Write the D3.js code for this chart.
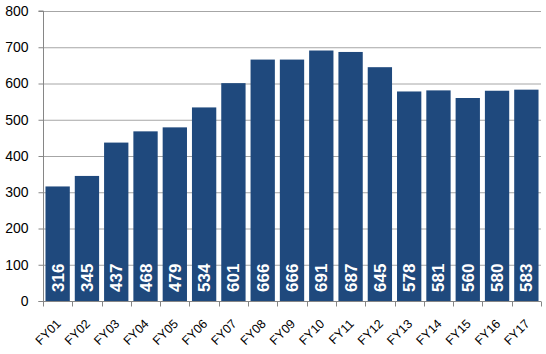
<!DOCTYPE html>
<html><head><meta charset="utf-8">
<script src="https://cdn.jsdelivr.net/npm/d3@7"></script>
<style>body{margin:0;background:#fff;} svg{display:block;}</style>
</head><body>
<svg id="c" width="546" height="354"></svg>
<script>
const categories = ["FY01","FY02","FY03","FY04","FY05","FY06","FY07","FY08","FY09","FY10","FY11","FY12","FY13","FY14","FY15","FY16","FY17"];
const values = [316,345,437,468,479,534,601,666,666,691,687,645,578,581,560,580,583];
const yTicks = [0,100,200,300,400,500,600,700,800];

const svg = d3.select("#c");
const m = {left:43, right:5, top:11, bottom:53};
const W = 546, H = 354;
const x = d3.scaleBand().domain(categories).range([m.left, W - m.right]).paddingInner(0.17).paddingOuter(0.085);
const y = d3.scaleLinear().domain([0,800]).range([H - m.bottom, m.top]);
const font = "'Liberation Sans', Arial, sans-serif";

// gridlines
svg.append("g").selectAll("line").data(yTicks.filter(d=>d>0)).join("line")
  .attr("x1", m.left).attr("x2", W - m.right)
  .attr("y1", d=>y(d)+0.5).attr("y2", d=>y(d)+0.5)
  .attr("stroke", "#a6a6a6").attr("stroke-width", 1);

// bars
svg.append("g").selectAll("rect").data(values).join("rect")
  .attr("x", (d,i)=>x(categories[i])).attr("width", x.bandwidth())
  .attr("y", d=>y(d)).attr("height", d=>y(0)-y(d))
  .attr("fill", "#1f497d");

// value labels
svg.append("g").selectAll("text").data(values).join("text")
  .attr("transform", (d,i)=>`translate(${x(categories[i]) + x.bandwidth()/2 + 6},${y(0)-9}) rotate(-90)`)
  .attr("fill", "#fff").attr("font-family", font).attr("font-weight", "bold").attr("font-size", 17)
  .text(d=>d);

// y axis
const yAxis = d3.axisLeft(y).tickValues(yTicks).tickSize(5).tickPadding(10);
const gy = svg.append("g").attr("transform", `translate(${m.left+0.5},0)`).call(yAxis);
gy.select(".domain").attr("stroke", "#868686").attr("d", `M-5,${y(0)+0.5}H0V${m.top}H-5`);
gy.selectAll(".tick line").attr("stroke", "#868686");
gy.selectAll(".tick text").attr("font-family", font).attr("font-size", 14).attr("fill", "#000");

// x axis
const gx = svg.append("g").attr("transform", `translate(0,${y(0)+0.5})`);
gx.append("line").attr("x1", m.left).attr("x2", W - m.right).attr("stroke", "#868686");
const bounds = d3.range(categories.length + 1).map(i => m.left + (W - m.left - m.right) * i / categories.length);
gx.selectAll(".t").data(bounds).join("line").attr("class","t")
  .attr("x1", d=>Math.round(d)+0.5).attr("x2", d=>Math.round(d)+0.5).attr("y1", 0).attr("y2", 5)
  .attr("stroke", "#868686");
gx.selectAll("text").data(categories).join("text")
  .attr("transform", d=>`translate(${x(d)+x.bandwidth()/2+4},${23}) rotate(-45)`)
  .attr("text-anchor", "end").attr("font-family", font).attr("font-size", 12.5).attr("fill", "#000")
  .text(d=>d);
</script>
</body></html>
